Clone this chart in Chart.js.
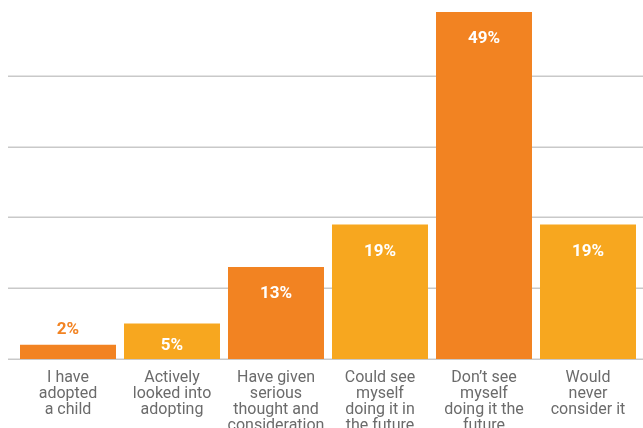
<!DOCTYPE html>
<html>
<head>
<meta charset="utf-8">
<script src="https://cdn.jsdelivr.net/npm/chart.js@4/dist/chart.umd.min.js"></script>
<style>
  html, body { margin: 0; padding: 0; background: #fff; }
  #wrap { width: 643px; height: 428px; }
</style>
</head>
<body>
<div id="wrap"><canvas id="adopt-chart"></canvas></div>
<script>
const CATEGORIES = [
  ['I have', 'adopted', 'a child'],
  ['Actively', 'looked into', 'adopting'],
  ['Have given', 'serious', 'thought and', 'consideration'],
  ['Could see', 'myself', 'doing it in', 'the future'],
  ['Don\u2019t see', 'myself', 'doing it the', 'future'],
  ['Would', 'never', 'consider it']
];
const VALUES = [2, 5, 13, 19, 49, 19];
const Y_TICKS = [0, 10, 20, 30, 40, 50];

const DARK = '#F28322';
const LIGHT = '#F7A71F';
const FONT = 'Roboto, "Liberation Sans", sans-serif';

// grid lines run a bit wider than the chart area in the original
const gridPlugin = {
  id: 'wideGrid',
  beforeDatasetsDraw(chart) {
    const { ctx, scales } = chart;
    ctx.save();
    ctx.strokeStyle = '#c9c9c9';
    ctx.lineWidth = 1.5;
    Y_TICKS.slice(0, -1).forEach((v) => {
      const y = Math.round(scales.y.getPixelForValue(v)) + 0.25;
      ctx.beginPath();
      ctx.moveTo(8, y);
      ctx.lineTo(chart.width, y);
      ctx.stroke();
    });
    ctx.restore();
  }
};

// percentage labels, inside the bar or above it when the bar is short
const labelPlugin = {
  id: 'valueLabels',
  afterDatasetsDraw(chart) {
    const { ctx } = chart;
    const meta = chart.getDatasetMeta(0);
    ctx.save();
    ctx.font = 'bold 17px ' + FONT;
    ctx.textAlign = 'center';
    ctx.textBaseline = 'middle';
    meta.data.forEach((bar, i) => {
      const h = bar.base - bar.y;
      if (h < 25) {
        ctx.fillStyle = DARK;
        ctx.fillText(VALUES[i] + '%', bar.x, bar.y - 15);
      } else {
        ctx.fillStyle = '#fff';
        ctx.fillText(VALUES[i] + '%', bar.x, bar.y + Math.min(27, h / 2 + 4));
      }
    });
    ctx.restore();
  }
};

new Chart(document.getElementById('adopt-chart'), {
  type: 'bar',
  data: {
    labels: CATEGORIES,
    datasets: [{
      data: VALUES,
      backgroundColor: VALUES.map((_, i) => (i % 2 === 0 ? DARK : LIGHT)),
      borderWidth: 0,
      barPercentage: 1,
      categoryPercentage: 0.923
    }]
  },
  options: {
    responsive: true,
    maintainAspectRatio: false,
    animation: false,
    layout: { padding: { top: 5, left: 16, right: 3, bottom: 0 } },
    plugins: {
      legend: { display: false },
      tooltip: { enabled: false }
    },
    scales: {
      x: {
        grid: { display: false },
        border: { display: false },
        ticks: {
          color: '#6b6b6b',
          font: { family: FONT, size: 16, lineHeight: 1.0 },
          padding: 3,
          maxRotation: 0,
          autoSkip: false
        },
        afterFit(scale) { scale.height = 69; }
      },
      y: {
        display: false,
        min: 0,
        max: 50,
        ticks: { stepSize: 10 }
      }
    }
  },
  plugins: [gridPlugin, labelPlugin]
});
</script>
</body>
</html>
